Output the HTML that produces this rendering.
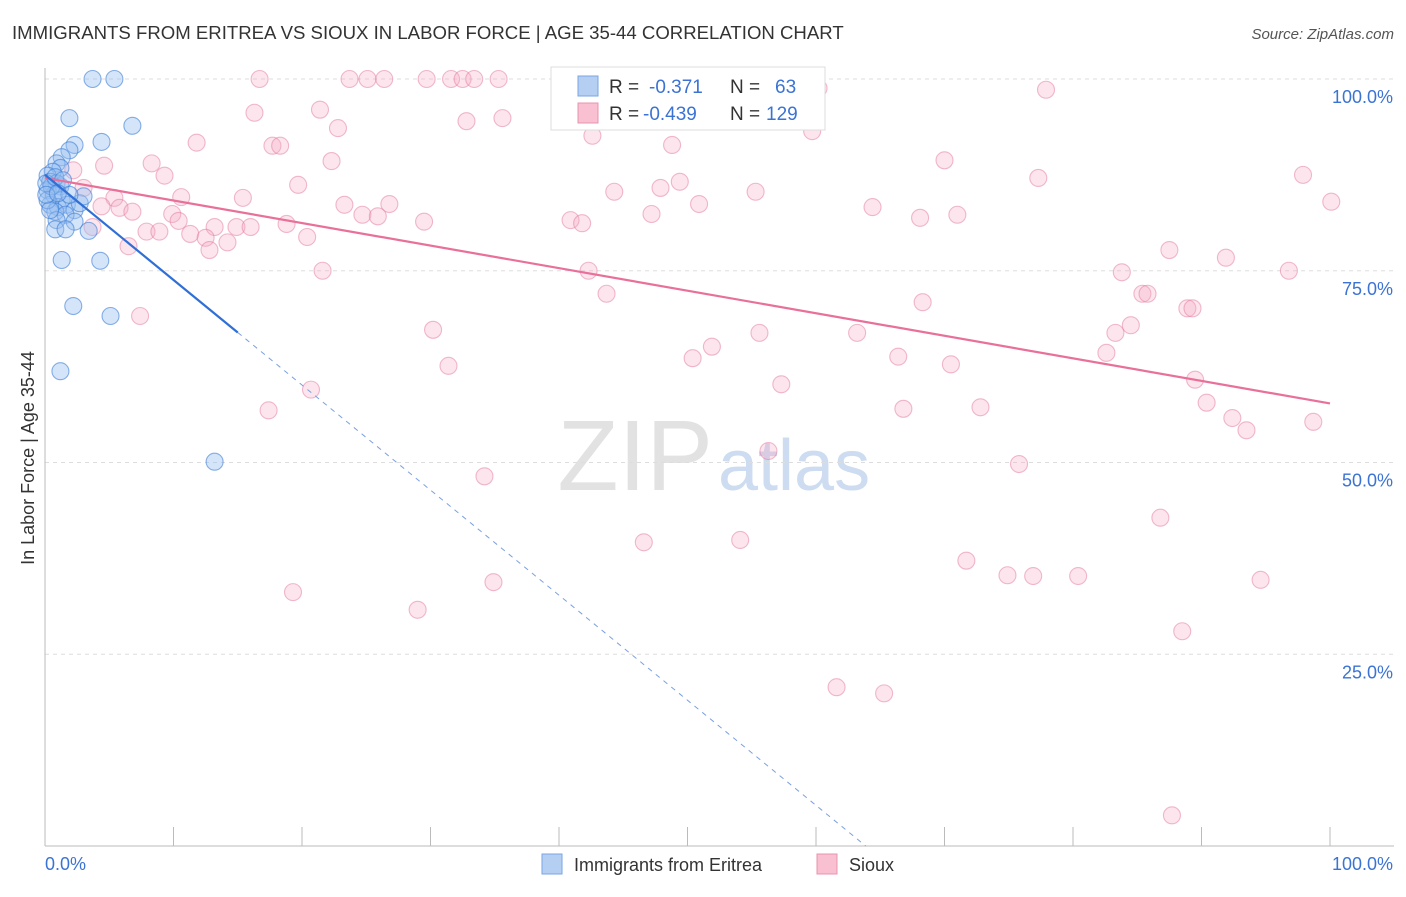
<!DOCTYPE html>
<html><head><meta charset="utf-8"><style>
body{margin:0;background:#fff;font-family:"Liberation Sans",sans-serif;}
svg text{font-family:"Liberation Sans",sans-serif;}
</style></head><body>
<svg id="chart" width="1406" height="892" viewBox="0 0 1406 892" xmlns="http://www.w3.org/2000/svg">
<text x="12" y="39" font-size="18.6" fill="#333">IMMIGRANTS FROM ERITREA VS SIOUX IN LABOR FORCE | AGE 35-44 CORRELATION CHART</text>
<text x="1394" y="39" font-size="15" fill="#555" text-anchor="end" font-style="italic">Source: ZipAtlas.com</text>
<g>
<text x="713" y="490" font-size="100" fill="#e2e2e2" text-anchor="end" font-family="Liberation Serif,serif">ZIP</text>
<text x="718" y="490" font-size="72" fill="#cddcf0">atlas</text>
</g>
<g id="grid"></g>
<g id="axes"></g>
<g id="points"></g>
<g id="lines"></g>
<text transform="translate(34,458) rotate(-90)" font-size="18" fill="#333" text-anchor="middle">In Labor Force | Age 35-44</text>
<g>
<rect x="551" y="67" width="274" height="63" fill="#fff" stroke="#ddd"/>
<rect x="578" y="76" width="20" height="20" fill="#b5cff3" stroke="#7aa6e3"/>
<rect x="578" y="103" width="20" height="20" fill="#f8c0d1" stroke="#e993b0"/>
<text x="609" y="93" font-size="19" fill="#333">R = </text>
<text x="649" y="93" font-size="19" fill="#3b73d4">-0.371</text>
<text x="730" y="93" font-size="19" fill="#333">N = </text>
<text x="775" y="93" font-size="19" fill="#3b73d4">63</text>
<text x="609" y="120" font-size="19" fill="#333">R = </text>
<text x="643" y="120" font-size="19" fill="#3b73d4">-0.439</text>
<text x="730" y="120" font-size="19" fill="#333">N = </text>
<text x="766" y="120" font-size="19" fill="#3b73d4">129</text>
</g>
<g>
<rect x="542" y="854" width="20" height="20" fill="#b5cff3" stroke="#7aa6e3"/>
<text x="574" y="871" font-size="18" fill="#333">Immigrants from Eritrea</text>
<rect x="817" y="854" width="20" height="20" fill="#f8c0d1" stroke="#e993b0"/>
<text x="849" y="871" font-size="18" fill="#333">Sioux</text>
</g>
</svg>
<script>
const yTicks=[25,50,75,100];
const yTickLabels=["25.0%","50.0%","75.0%","100.0%"];
const xTicks=[0,10,20,30,40,50,60,70,80,90,100];
const xEndLabels=["0.0%","100.0%"];
const blueX=[3.7,5.4,1.9,6.8,4.4,2.3,1.9,1.3,0.9,1.2,0.6,0.2,0.4,0.9,1.2,0.2,0.7,1.3,0.4,1.0,1.7,2.3,2.7,3.0,0.8,1.6,0.9,2.3,0.8,1.6,3.4,1.3,4.3,2.2,5.1,1.2,13.2,0.2,0.4,0.5,0.1,0.1,0.8,1.4,1.9,1.0];
const blueY=[100,100,94.9,93.9,91.8,91.4,90.7,89.8,89.0,88.4,87.9,87.4,86.6,86.4,86.0,85.5,84.9,84.2,83.6,83.3,83.6,82.9,83.8,84.7,82.7,82.3,81.6,81.4,80.4,80.4,80.2,76.4,76.3,70.4,69.1,61.9,50.1,84.2,82.9,86.0,86.4,84.9,87.2,86.8,84.9,85.1];
const pinkPx=[260,350,368,384,427,451,462,474,498,745,818,1046,255,320,338,503,466,812,197,273,280,672,593,152,104,332,945,73,165,298,1038,680,660,1303,614,755,243,181,114,83,1331,699,390,345,362,378,120,132,172,101,92,179,215,236,250,286,424,570,582,652,873,920,957,146,160,190,205,228,210,128,307,1170,1226,322,588,1122,1289,606,1143,1147,923,1188,1193,1131,433,760,857,1116,712,693,898,1106,448,951,140,781,311,1195,269,1206,904,981,1232,1313,1247,768,1019,485,1161,740,644,966,1008,1033,1078,1260,493,293,418,1182,836,884,1172];
const pinkPy=[79,79,79,79,79,79,79,79,79,79,88,90,113,110,128,118,121,131,143,146,146,145,136,163,166,161,160,170,176,185,178,182,188,175,192,192,198,197,198,188,202,204,204,205,215,216,208,212,214,206,227,221,227,227,227,224,222,220,223,214,207,218,215,232,232,234,238,242,250,246,237,250,258,271,271,272,271,294,294,294,302,308,308,325,330,333,333,333,347,358,357,353,366,364,316,384,390,380,410,403,409,407,418,422,430,451,464,476,518,540,542,561,575,576,576,580,582,592,610,631,687,693,815];
const pinkX=pinkPx.map(p=>+((p-45)/12.85).toFixed(1));
const pinkY=pinkPy.map(p=>+((846-p)/7.67).toFixed(1));
const pinkLine=[87.1,57.7];
const blueLine=[87.5,-1.37];

const X0=45,X1=1330,Y0=846,Y100=79;
const sx=v=>X0+(X1-X0)*v/100;
const sy=v=>Y0-(Y0-Y100)*v/100;
const NS="http://www.w3.org/2000/svg";
function mk(tag,attrs,parent){const e=document.createElementNS(NS,tag);for(const k in attrs)e.setAttribute(k,attrs[k]);parent.appendChild(e);return e;}
const grid=document.getElementById('grid'),axes=document.getElementById('axes'),pts=document.getElementById('points'),lines=document.getElementById('lines');
yTicks.forEach((t,i)=>{
 const l=mk('line',{x1:X0,x2:1394,y1:sy(t),y2:sy(t),stroke:'#ddd','stroke-dasharray':'4,4'},grid);
 
 
 const tx=mk('text',{x:1393,y:sy(t)+24,'font-size':18,fill:'#3b73d4','text-anchor':'end'},axes);
 tx.textContent=yTickLabels[i];
 
 
});
const ya=mk('line',{x1:X0,x2:X0,y1:68,y2:Y0,stroke:'#bbb'},axes);


const xa=mk('line',{x1:X0,x2:1394,y1:Y0,y2:Y0,stroke:'#bbb'},axes);


xTicks.forEach(t=>{
 const l=mk('line',{x1:sx(t),x2:sx(t),y1:Y0-19,y2:Y0,stroke:'#bbb'},axes);
 
 
});
const xl0=mk('text',{x:45,y:870,'font-size':18,fill:'#3b73d4'},axes);xl0.textContent=xEndLabels[0];


const xl1=mk('text',{x:1393,y:870,'font-size':18,fill:'#3b73d4','text-anchor':'end'},axes);xl1.textContent=xEndLabels[1];


pinkX.forEach((x,i)=>{
 const c=mk('circle',{cx:sx(x),cy:sy(pinkY[i]),r:8.5,fill:'rgba(245,170,195,0.3)',stroke:'rgba(228,120,158,0.5)','stroke-width':1.1},pts);
 
 
});
blueX.forEach((x,i)=>{
 const c=mk('circle',{cx:sx(x),cy:sy(blueY[i]),r:8.5,fill:'rgba(150,190,240,0.4)',stroke:'rgba(60,125,215,0.6)','stroke-width':1.1},pts);
 
 
});
const pl=mk('line',{x1:sx(0),y1:sy(pinkLine[0]),x2:sx(100),y2:sy(pinkLine[1]),stroke:'#e8709a','stroke-width':2.2},lines);


const bEnd=15, bZero=-blueLine[0]/blueLine[1];
const bl=mk('line',{x1:sx(0),y1:sy(blueLine[0]),x2:sx(bEnd),y2:sy(blueLine[0]+blueLine[1]*bEnd),stroke:'#2f6fd6','stroke-width':2.2},lines);


const bd=mk('line',{x1:sx(bEnd),y1:sy(blueLine[0]+blueLine[1]*bEnd),x2:sx(bZero),y2:sy(0),stroke:'#7aa0e0','stroke-width':1,'stroke-dasharray':'5,5'},lines);


</script>
</body></html>
